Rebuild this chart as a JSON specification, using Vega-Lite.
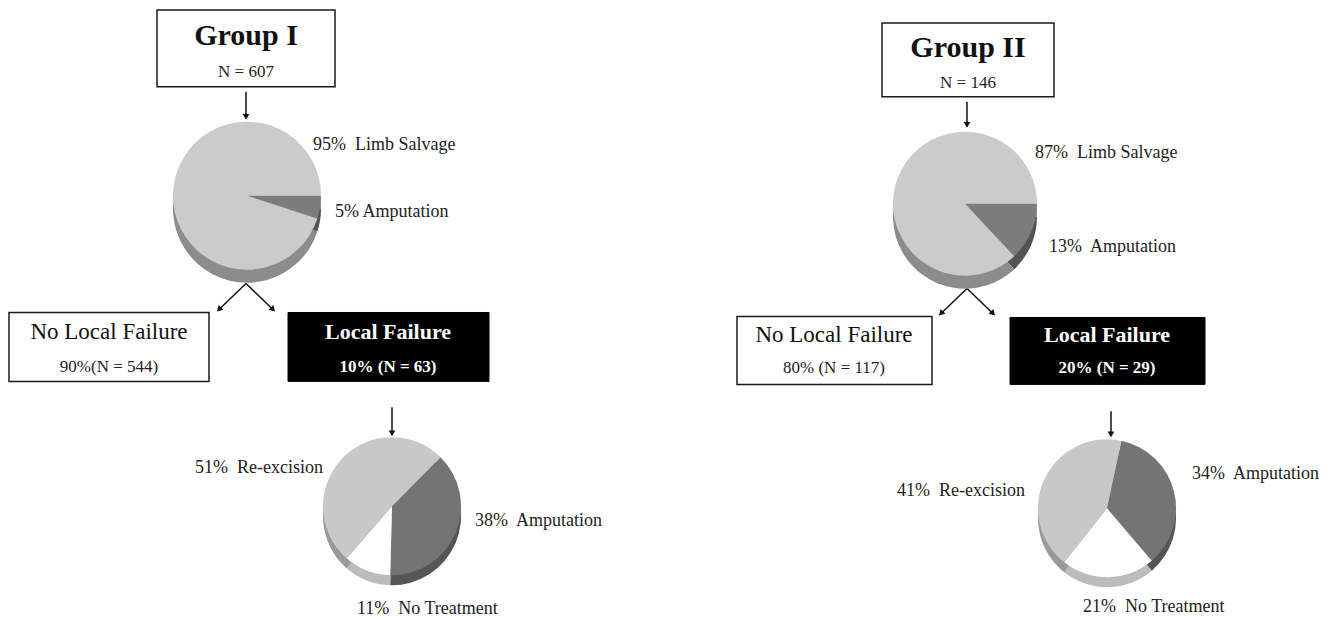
{
  "$schema": "https://vega.github.io/schema/vega-lite/v6.json",
  "width": 1333,
  "height": 618,
  "autosize": {"type": "fit", "contains": "padding"},
  "padding": 0,
  "background": "white",
  "config": {"view": {"stroke": null}},
  "datasets": {
    "boxes": [
      {"node": "Group I", "kind": "header", "x": 157, "x2": 335, "y": 10, "y2": 87},
      {"node": "Group II", "kind": "header", "x": 882, "x2": 1054, "y": 23, "y2": 97},
      {"node": "Group I no local failure", "kind": "open", "x": 9, "x2": 209, "y": 313, "y2": 382},
      {"node": "Group I local failure", "kind": "solid", "x": 288, "x2": 489, "y": 313, "y2": 382},
      {"node": "Group II no local failure", "kind": "open", "x": 737, "x2": 932, "y": 317, "y2": 385},
      {"node": "Group II local failure", "kind": "solid", "x": 1010, "x2": 1205, "y": 318, "y2": 385}
    ],
    "labels": [
      {"role": "title", "text": "Group I", "x": 246, "y": 45},
      {"role": "count", "text": "N = 607", "x": 246, "y": 77},
      {"role": "title", "text": "Group II", "x": 968, "y": 57},
      {"role": "count", "text": "N = 146", "x": 968, "y": 88},
      {"role": "boxhead", "text": "No Local Failure", "x": 109, "y": 340},
      {"role": "boxsub", "text": "90%(N = 544)", "x": 109, "y": 373},
      {"role": "boxhead", "text": "No Local Failure", "x": 834, "y": 343},
      {"role": "boxsub", "text": "80% (N = 117)", "x": 834, "y": 374},
      {"role": "failhead", "text": "Local Failure", "x": 388, "y": 340},
      {"role": "failsub", "text": "10% (N = 63)", "x": 388, "y": 373},
      {"role": "failhead", "text": "Local Failure", "x": 1107, "y": 343},
      {"role": "failsub", "text": "20% (N = 29)", "x": 1107, "y": 374},
      {"role": "slice", "text": "95%\u00a0 Limb Salvage", "x": 313, "y": 150},
      {"role": "slice", "text": "5% Amputation", "x": 335, "y": 217},
      {"role": "slice", "text": "87%\u00a0 Limb Salvage", "x": 1035, "y": 158},
      {"role": "slice", "text": "13%\u00a0 Amputation", "x": 1049, "y": 252},
      {"role": "slice", "text": "51%\u00a0 Re-excision", "x": 195, "y": 474},
      {"role": "slice", "text": "38%\u00a0 Amputation", "x": 475, "y": 527},
      {"role": "slice", "text": "11%\u00a0 No Treatment", "x": 357, "y": 615},
      {"role": "slice", "text": "41%\u00a0 Re-excision", "x": 897, "y": 497},
      {"role": "slice", "text": "34%\u00a0 Amputation", "x": 1192, "y": 480},
      {"role": "slice", "text": "21%\u00a0 No Treatment", "x": 1083, "y": 613}
    ],
    "arrows": [
      {"link": "Group I to outcome", "x": 246, "y": 92, "x2": 246, "y2": 117, "angle": 0},
      {"link": "Group I to no local failure", "x": 246, "y": 284, "x2": 219, "y2": 310, "angle": 45},
      {"link": "Group I to local failure", "x": 246, "y": 284, "x2": 273, "y2": 310, "angle": 315},
      {"link": "Group I local failure to treatment", "x": 392, "y": 408, "x2": 392, "y2": 434, "angle": 0},
      {"link": "Group II to outcome", "x": 967, "y": 102, "x2": 967, "y2": 125, "angle": 0},
      {"link": "Group II to no local failure", "x": 967, "y": 289, "x2": 941, "y2": 314, "angle": 45},
      {"link": "Group II to local failure", "x": 967, "y": 289, "x2": 993, "y2": 314, "angle": 315},
      {"link": "Group II local failure to treatment", "x": 1111, "y": 412, "x2": 1111, "y2": 435, "angle": 0}
    ],
    "slices": [
      {"pie": "g1_outcome", "outcome": "Amputation", "pct": 5, "ord": 1, "x": 247, "y": 196},
      {"pie": "g1_outcome", "outcome": "Limb Salvage", "pct": 95, "ord": 2, "x": 247, "y": 196},
      {"pie": "g2_outcome", "outcome": "Amputation", "pct": 13, "ord": 1, "x": 965, "y": 204},
      {"pie": "g2_outcome", "outcome": "Limb Salvage", "pct": 87, "ord": 2, "x": 965, "y": 204},
      {"pie": "g1_treatment", "outcome": "Amputation", "pct": 38, "ord": 1, "x": 392, "y": 507},
      {"pie": "g1_treatment", "outcome": "No Treatment", "pct": 11, "ord": 2, "x": 392, "y": 507},
      {"pie": "g1_treatment", "outcome": "Re-excision", "pct": 51, "ord": 3, "x": 392, "y": 507},
      {"pie": "g2_treatment", "outcome": "Amputation", "pct": 34, "ord": 1, "x": 1107, "y": 509},
      {"pie": "g2_treatment", "outcome": "No Treatment", "pct": 21, "ord": 2, "x": 1107, "y": 509},
      {"pie": "g2_treatment", "outcome": "Re-excision", "pct": 41, "ord": 3, "x": 1107, "y": 509}
    ]
  },
  "resolve": {"scale": {"theta": "independent", "fill": "independent", "color": "independent"}},
  "layer": [
    {
      "data": {"name": "boxes"},
      "transform": [{"filter": "datum.kind !== 'solid'"}],
      "mark": {"type": "rect", "fill": "white", "stroke": "#1a1a1a", "strokeWidth": 1.5},
      "encoding": {
        "x": {"field": "x", "type": "quantitative", "scale": {"domain": [0, 1333], "nice": false, "zero": false}, "axis": null},
        "x2": {"field": "x2"},
        "y": {"field": "y", "type": "quantitative", "scale": {"domain": [0, 618], "nice": false, "zero": false, "reverse": true}, "axis": null},
        "y2": {"field": "y2"}
      }
    },
    {
      "data": {"name": "boxes"},
      "transform": [{"filter": "datum.kind === 'solid'"}],
      "mark": {"type": "rect", "fill": "black", "stroke": "black", "strokeWidth": 1},
      "encoding": {
        "x": {"field": "x", "type": "quantitative", "scale": {"domain": [0, 1333], "nice": false, "zero": false}, "axis": null},
        "x2": {"field": "x2"},
        "y": {"field": "y", "type": "quantitative", "scale": {"domain": [0, 618], "nice": false, "zero": false, "reverse": true}, "axis": null},
        "y2": {"field": "y2"}
      }
    },
    {
      "data": {"name": "arrows"},
      "mark": {"type": "rule", "stroke": "#111", "strokeWidth": 1.5},
      "encoding": {
        "x": {"field": "x", "type": "quantitative", "scale": {"domain": [0, 1333], "nice": false, "zero": false}, "axis": null},
        "x2": {"field": "x2"},
        "y": {"field": "y", "type": "quantitative", "scale": {"domain": [0, 618], "nice": false, "zero": false, "reverse": true}, "axis": null},
        "y2": {"field": "y2"}
      }
    },
    {
      "data": {"name": "arrows"},
      "mark": {"type": "point", "shape": "triangle-down", "filled": true, "fill": "#111", "stroke": null, "size": 45, "opacity": 1},
      "encoding": {
        "x": {"field": "x2", "type": "quantitative", "scale": {"domain": [0, 1333], "nice": false, "zero": false}, "axis": null},
        "y": {"field": "y2", "type": "quantitative", "scale": {"domain": [0, 618], "nice": false, "zero": false, "reverse": true}, "axis": null},
        "angle": {"field": "angle", "type": "quantitative", "scale": null}
      }
    },
    {
      "data": {"name": "slices"},
      "transform": [{"filter": "datum.pie === 'g1_outcome'"}],
      "encoding": {
        "x": {"field": "x", "type": "quantitative", "scale": {"domain": [0, 1333], "nice": false, "zero": false}, "axis": null},
        "y": {"field": "y", "type": "quantitative", "scale": {"domain": [0, 618], "nice": false, "zero": false, "reverse": true}, "axis": null},
        "theta": {"field": "pct", "type": "quantitative", "stack": true, "scale": {"domain": [0, 100], "range": [1.5708, 7.854]}},
        "order": {"field": "ord", "type": "quantitative"}
      },
      "layer": [
        {
          "mark": {"type": "arc", "outerRadius": 74, "yOffset": 13},
          "encoding": {"color": {"field": "outcome", "type": "nominal", "legend": null, "scale": {"domain": ["Limb Salvage", "Re-excision", "Amputation", "No Treatment"], "range": ["#8c8c8c", "#8c8c8c", "#535353", "#bcbcbc"]}}}
        },
        {
          "mark": {"type": "arc", "outerRadius": 74},
          "encoding": {"fill": {"field": "outcome", "type": "nominal", "legend": null, "scale": {"domain": ["Limb Salvage", "Re-excision", "Amputation", "No Treatment"], "range": ["#cbcbcb", "#c8c8c8", "#7c7c7c", "#ffffff"]}}}
        }
      ]
    },
    {
      "data": {"name": "slices"},
      "transform": [{"filter": "datum.pie === 'g2_outcome'"}],
      "encoding": {
        "x": {"field": "x", "type": "quantitative", "scale": {"domain": [0, 1333], "nice": false, "zero": false}, "axis": null},
        "y": {"field": "y", "type": "quantitative", "scale": {"domain": [0, 618], "nice": false, "zero": false, "reverse": true}, "axis": null},
        "theta": {"field": "pct", "type": "quantitative", "stack": true, "scale": {"domain": [0, 100], "range": [1.5708, 7.854]}},
        "order": {"field": "ord", "type": "quantitative"}
      },
      "layer": [
        {
          "mark": {"type": "arc", "outerRadius": 72, "yOffset": 13},
          "encoding": {"color": {"field": "outcome", "type": "nominal", "legend": null, "scale": {"domain": ["Limb Salvage", "Re-excision", "Amputation", "No Treatment"], "range": ["#8c8c8c", "#8c8c8c", "#535353", "#bcbcbc"]}}}
        },
        {
          "mark": {"type": "arc", "outerRadius": 72},
          "encoding": {"fill": {"field": "outcome", "type": "nominal", "legend": null, "scale": {"domain": ["Limb Salvage", "Re-excision", "Amputation", "No Treatment"], "range": ["#cbcbcb", "#c8c8c8", "#7c7c7c", "#ffffff"]}}}
        }
      ]
    },
    {
      "data": {"name": "slices"},
      "transform": [{"filter": "datum.pie === 'g1_treatment'"}],
      "encoding": {
        "x": {"field": "x", "type": "quantitative", "scale": {"domain": [0, 1333], "nice": false, "zero": false}, "axis": null},
        "y": {"field": "y", "type": "quantitative", "scale": {"domain": [0, 618], "nice": false, "zero": false, "reverse": true}, "axis": null},
        "theta": {"field": "pct", "type": "quantitative", "stack": true, "scale": {"domain": [0, 100], "range": [0.78, 7.063]}},
        "order": {"field": "ord", "type": "quantitative"}
      },
      "layer": [
        {
          "mark": {"type": "arc", "outerRadius": 69, "yOffset": 10},
          "encoding": {"color": {"field": "outcome", "type": "nominal", "legend": null, "scale": {"domain": ["Limb Salvage", "Re-excision", "Amputation", "No Treatment"], "range": ["#8e8e8e", "#9a9a9a", "#555555", "#bcbcbc"]}}}
        },
        {
          "mark": {"type": "arc", "outerRadius": 69},
          "encoding": {"fill": {"field": "outcome", "type": "nominal", "legend": null, "scale": {"domain": ["Limb Salvage", "Re-excision", "Amputation", "No Treatment"], "range": ["#cbcbcb", "#c8c8c8", "#747474", "#ffffff"]}}}
        }
      ]
    },
    {
      "data": {"name": "slices"},
      "transform": [{"filter": "datum.pie === 'g2_treatment'"}],
      "encoding": {
        "x": {"field": "x", "type": "quantitative", "scale": {"domain": [0, 1333], "nice": false, "zero": false}, "axis": null},
        "y": {"field": "y", "type": "quantitative", "scale": {"domain": [0, 618], "nice": false, "zero": false, "reverse": true}, "axis": null},
        "theta": {"field": "pct", "type": "quantitative", "stack": true, "scale": {"domain": [0, 96], "range": [0.21, 6.493]}},
        "order": {"field": "ord", "type": "quantitative"}
      },
      "layer": [
        {
          "mark": {"type": "arc", "outerRadius": 69, "yOffset": 10},
          "encoding": {"color": {"field": "outcome", "type": "nominal", "legend": null, "scale": {"domain": ["Limb Salvage", "Re-excision", "Amputation", "No Treatment"], "range": ["#8e8e8e", "#9a9a9a", "#555555", "#bcbcbc"]}}}
        },
        {
          "mark": {"type": "arc", "outerRadius": 69},
          "encoding": {"fill": {"field": "outcome", "type": "nominal", "legend": null, "scale": {"domain": ["Limb Salvage", "Re-excision", "Amputation", "No Treatment"], "range": ["#cbcbcb", "#c8c8c8", "#747474", "#ffffff"]}}}
        }
      ]
    },
    {
      "data": {"name": "labels"},
      "transform": [{"filter": "datum.role === 'title'"}],
      "mark": {"type": "text", "font": "Liberation Serif", "fontWeight": "bold", "fontSize": 30, "align": "center", "baseline": "alphabetic", "fill": "#111"},
      "encoding": {
        "x": {"field": "x", "type": "quantitative", "scale": {"domain": [0, 1333], "nice": false, "zero": false}, "axis": null},
        "y": {"field": "y", "type": "quantitative", "scale": {"domain": [0, 618], "nice": false, "zero": false, "reverse": true}, "axis": null},
        "text": {"field": "text"}
      }
    },
    {
      "data": {"name": "labels"},
      "transform": [{"filter": "datum.role === 'count' || datum.role === 'boxsub'"}],
      "mark": {"type": "text", "font": "Liberation Serif", "fontSize": 17, "align": "center", "baseline": "alphabetic", "fill": "#222"},
      "encoding": {
        "x": {"field": "x", "type": "quantitative", "scale": {"domain": [0, 1333], "nice": false, "zero": false}, "axis": null},
        "y": {"field": "y", "type": "quantitative", "scale": {"domain": [0, 618], "nice": false, "zero": false, "reverse": true}, "axis": null},
        "text": {"field": "text"}
      }
    },
    {
      "data": {"name": "labels"},
      "transform": [{"filter": "datum.role === 'boxhead'"}],
      "mark": {"type": "text", "font": "Liberation Serif", "fontSize": 23, "align": "center", "baseline": "alphabetic", "fill": "#111"},
      "encoding": {
        "x": {"field": "x", "type": "quantitative", "scale": {"domain": [0, 1333], "nice": false, "zero": false}, "axis": null},
        "y": {"field": "y", "type": "quantitative", "scale": {"domain": [0, 618], "nice": false, "zero": false, "reverse": true}, "axis": null},
        "text": {"field": "text"}
      }
    },
    {
      "data": {"name": "labels"},
      "transform": [{"filter": "datum.role === 'failhead'"}],
      "mark": {"type": "text", "font": "Liberation Serif", "fontWeight": "bold", "fontSize": 22, "align": "center", "baseline": "alphabetic", "fill": "white"},
      "encoding": {
        "x": {"field": "x", "type": "quantitative", "scale": {"domain": [0, 1333], "nice": false, "zero": false}, "axis": null},
        "y": {"field": "y", "type": "quantitative", "scale": {"domain": [0, 618], "nice": false, "zero": false, "reverse": true}, "axis": null},
        "text": {"field": "text"}
      }
    },
    {
      "data": {"name": "labels"},
      "transform": [{"filter": "datum.role === 'failsub'"}],
      "mark": {"type": "text", "font": "Liberation Serif", "fontWeight": "bold", "fontSize": 17, "align": "center", "baseline": "alphabetic", "fill": "white"},
      "encoding": {
        "x": {"field": "x", "type": "quantitative", "scale": {"domain": [0, 1333], "nice": false, "zero": false}, "axis": null},
        "y": {"field": "y", "type": "quantitative", "scale": {"domain": [0, 618], "nice": false, "zero": false, "reverse": true}, "axis": null},
        "text": {"field": "text"}
      }
    },
    {
      "data": {"name": "labels"},
      "transform": [{"filter": "datum.role === 'slice'"}],
      "mark": {"type": "text", "font": "Liberation Serif", "fontSize": 18, "align": "left", "baseline": "alphabetic", "fill": "#222"},
      "encoding": {
        "x": {"field": "x", "type": "quantitative", "scale": {"domain": [0, 1333], "nice": false, "zero": false}, "axis": null},
        "y": {"field": "y", "type": "quantitative", "scale": {"domain": [0, 618], "nice": false, "zero": false, "reverse": true}, "axis": null},
        "text": {"field": "text"}
      }
    }
  ]
}
